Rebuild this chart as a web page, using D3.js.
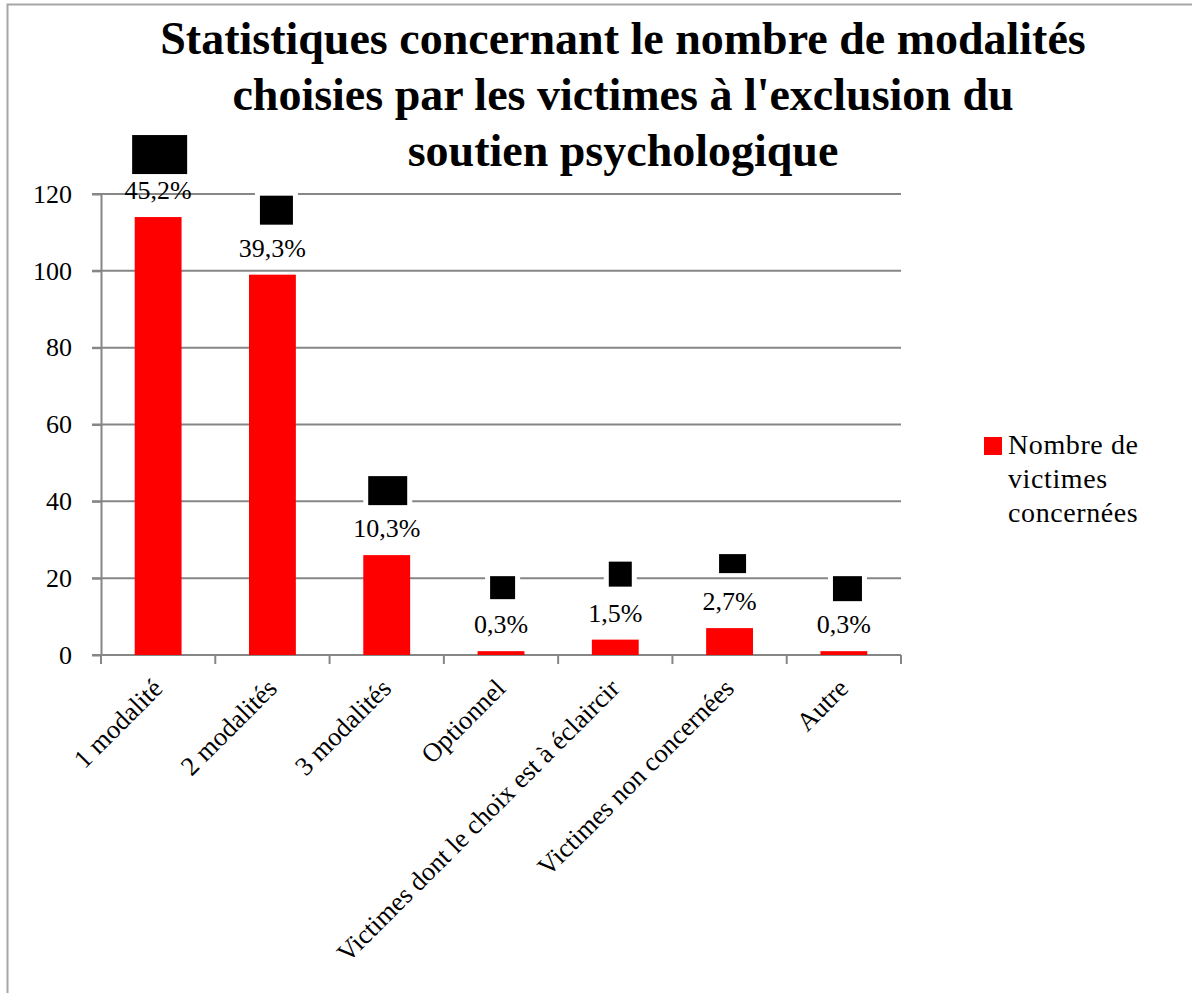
<!DOCTYPE html>
<html>
<head>
<meta charset="utf-8">
<script src="https://cdn.jsdelivr.net/npm/d3@7"></script>
<style>
  body { margin: 0; background: #fff; }
  svg text { font-family: "Palatino Linotype", "Book Antiqua", Palatino, "Liberation Serif", serif; fill: #000; }
</style>
</head>
<body>
<svg id="chart" width="1192" height="993"></svg>
<script>
// data
const categories = ['1 modalité', '2 modalités', '3 modalités', 'Optionnel',
    'Victimes dont le choix est à éclaircir', 'Victimes non concernées', 'Autre'];
const victimes = [114, 99, 26, 1, 4, 7, 1];
const pourcentages = ['45,2%', '39,3%', '10,3%', '0,3%', '1,5%', '2,7%', '0,3%'];
const yTicks = [0, 20, 40, 60, 80, 100, 120];
const titleLines = ['Statistiques concernant le nombre de modalités',
    "choisies par les victimes à l'exclusion du", 'soutien psychologique'];
const legendLines = ['Nombre de', 'victimes', 'concernées'];

// black boxes sitting over each data label (offsets from label baseline)
const BOXES = [
    { dx: 1.5, dy: -64, w: 55, h: 39 },
    { dx: 4, dy: -61, w: 33, h: 29 },
    { dx: 1, dy: -61, w: 39, h: 29 },
    { dx: 1.6, dy: -57, w: 25, h: 23 },
    { dx: 5, dy: -60, w: 23, h: 25 },
    { dx: 3, dy: -56, w: 27, h: 19 },
    { dx: 3.6, dy: -57, w: 29, h: 25 }
];

const MARGIN = { left: 101, right: 901, top: 194, bottom: 655 };
const GRID = '#868686';

let svg = d3.select('#chart');

// chart frame (only left and top edges are inside the picture)
svg.append('path')
    .attr('d', 'M7.5,993 V4.5 H1192')
    .attr('fill', 'none')
    .attr('stroke', '#a6a6a6')
    .attr('stroke-width', 2);

let yScale = d3.scaleLinear()
    .domain([0, 120])
    .range([MARGIN.bottom, MARGIN.top]);
let xScale = d3.scaleBand()
    .domain(categories)
    .range([MARGIN.left, MARGIN.right])
    .paddingInner(0.59)
    .paddingOuter(0.295);
let step = xScale.step();

// gridlines
svg.append('g')
    .selectAll('line')
    .data(yTicks.filter(d => d > 0))
    .join('line')
    .attr('x1', MARGIN.left - 9)
    .attr('x2', MARGIN.right)
    .attr('y1', d => yScale(d))
    .attr('y2', d => yScale(d))
    .attr('stroke', GRID)
    .attr('stroke-width', 2);

// y axis
let yAxis = svg.append('g')
    .attr('transform', `translate(${MARGIN.left}, 0)`)
    .call(d3.axisLeft(yScale).tickValues(yTicks).tickSizeInner(9).tickSizeOuter(0).tickPadding(20));
yAxis.select('.domain').attr('stroke', GRID).attr('stroke-width', 2);
yAxis.selectAll('.tick line').attr('stroke', GRID).attr('stroke-width', 2);
yAxis.selectAll('.tick text')
    .attr('font-size', '26px')
    .attr('font-family', null);

// x axis line and ticks at band edges
svg.append('line')
    .attr('x1', MARGIN.left - 9)
    .attr('x2', MARGIN.right)
    .attr('y1', yScale(0))
    .attr('y2', yScale(0))
    .attr('stroke', GRID)
    .attr('stroke-width', 2);
svg.append('g')
    .selectAll('line')
    .data(d3.range(categories.length + 1))
    .join('line')
    .attr('x1', i => MARGIN.left + i * step)
    .attr('x2', i => MARGIN.left + i * step)
    .attr('y1', yScale(0))
    .attr('y2', yScale(0) + 9)
    .attr('stroke', GRID)
    .attr('stroke-width', 2);

// category labels
svg.append('g')
    .selectAll('text')
    .data(categories)
    .join('text')
    .text(d => d)
    .attr('font-size', '26.5px')
    .attr('text-anchor', 'end')
    .attr('transform', d => `translate(${xScale(d) + xScale.bandwidth() / 2 + 6}, ${yScale(0) + 35}) rotate(-45)`);

// bars
svg.append('g')
    .selectAll('rect')
    .data(victimes)
    .join('rect')
    .attr('x', (d, i) => xScale(categories[i]))
    .attr('width', xScale.bandwidth())
    .attr('y', d => yScale(d))
    .attr('height', d => yScale(0) - yScale(d))
    .attr('fill', '#ff0000');

// data labels
let labels = svg.append('g');
labels.selectAll('text')
    .data(pourcentages)
    .join('text')
    .text(d => d)
    .attr('font-size', '26px')
    .attr('text-anchor', 'middle')
    .attr('x', (d, i) => xScale(categories[i]) + xScale.bandwidth() / 2)
    .attr('y', (d, i) => yScale(victimes[i]) - 18);

// boxes (white halo then black)
let boxes = svg.append('g');
BOXES.forEach((b, i) => {
    let cx = xScale(categories[i]) + xScale.bandwidth() / 2 + b.dx;
    let top = yScale(victimes[i]) - 18 + b.dy;
    boxes.append('rect')
        .attr('x', cx - b.w / 2 - 5).attr('y', top - 3)
        .attr('width', b.w + 10).attr('height', b.h + 6)
        .attr('fill', '#fff');
    boxes.append('rect')
        .attr('x', cx - b.w / 2).attr('y', top)
        .attr('width', b.w).attr('height', b.h)
        .attr('fill', '#000');
});

// title
svg.append('g')
    .selectAll('text')
    .data(titleLines)
    .join('text')
    .text(d => d)
    .attr('x', 623)
    .attr('y', (d, i) => 54 + i * 56)
    .attr('text-anchor', 'middle')
    .attr('font-size', '46px')
    .attr('font-weight', 'bold');

// legend
svg.append('rect')
    .attr('x', 984).attr('y', 437)
    .attr('width', 18).attr('height', 18)
    .attr('fill', '#ff0000');
svg.append('g')
    .selectAll('text')
    .data(legendLines)
    .join('text')
    .text(d => d)
    .attr('x', 1008)
    .attr('y', (d, i) => 454 + i * 34)
    .attr('font-size', '28px')
    .attr('letter-spacing', '0.6px');
</script>
</body>
</html>
